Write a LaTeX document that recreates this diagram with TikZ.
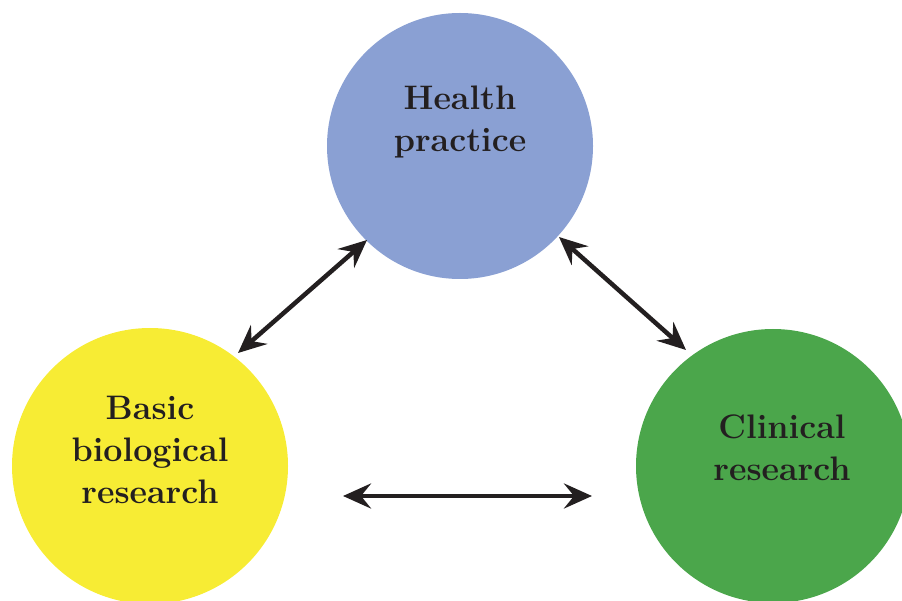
\documentclass[tikz,border=0pt]{standalone}
\usepackage{tikz}
\definecolor{healthblue}{RGB}{138,160,211}
\definecolor{basicyellow}{RGB}{247,236,52}
\definecolor{clinicgreen}{RGB}{75,166,75}
\definecolor{inkblack}{RGB}{35,31,32}
\usetikzlibrary{arrows.meta}

\begin{document}
\begin{tikzpicture}[x=1pt,y=-1pt,
    bubble/.style={circle,inner sep=0pt},
    lbl/.style={align=center,text=inkblack,font=\fontsize{34}{42}\selectfont\bfseries},
    link/.style={{Stealth[length=28pt,width=25pt,inset=10pt]}-{Stealth[length=28pt,width=25pt,inset=10pt]},line width=4.5pt,draw=inkblack}]

                \clip (0,0) rectangle (902,601);

                \node[fill=healthblue,bubble,minimum size=266pt] (h) at (460,146) {};
                \node[fill=basicyellow,bubble,minimum size=276pt] (b) at (150,466) {};
                \node[fill=clinicgreen,bubble,minimum size=274pt] (c) at (773,466) {};

                \node[lbl] (hl) at (460,122) {Health\\practice};
                \node[lbl] (bl) at (150,450) {Basic\\biological\\research};
                \node[lbl] (cl) at (782,448) {Clinical\\research};

                \coordinate (b1) at (238,353);
                \coordinate (h1) at (367,240);
                \coordinate (h2) at (559,237);
                \coordinate (c1) at (686,350);
                \coordinate (b2) at (343,496);
                \coordinate (c2) at (592,496);

                % Links
                \draw[link] (b1) -- (h1);
                \draw[link] (h2) -- (c1);
                \draw[link] (b2) -- (c2);

            \end{tikzpicture}
\end{document}
